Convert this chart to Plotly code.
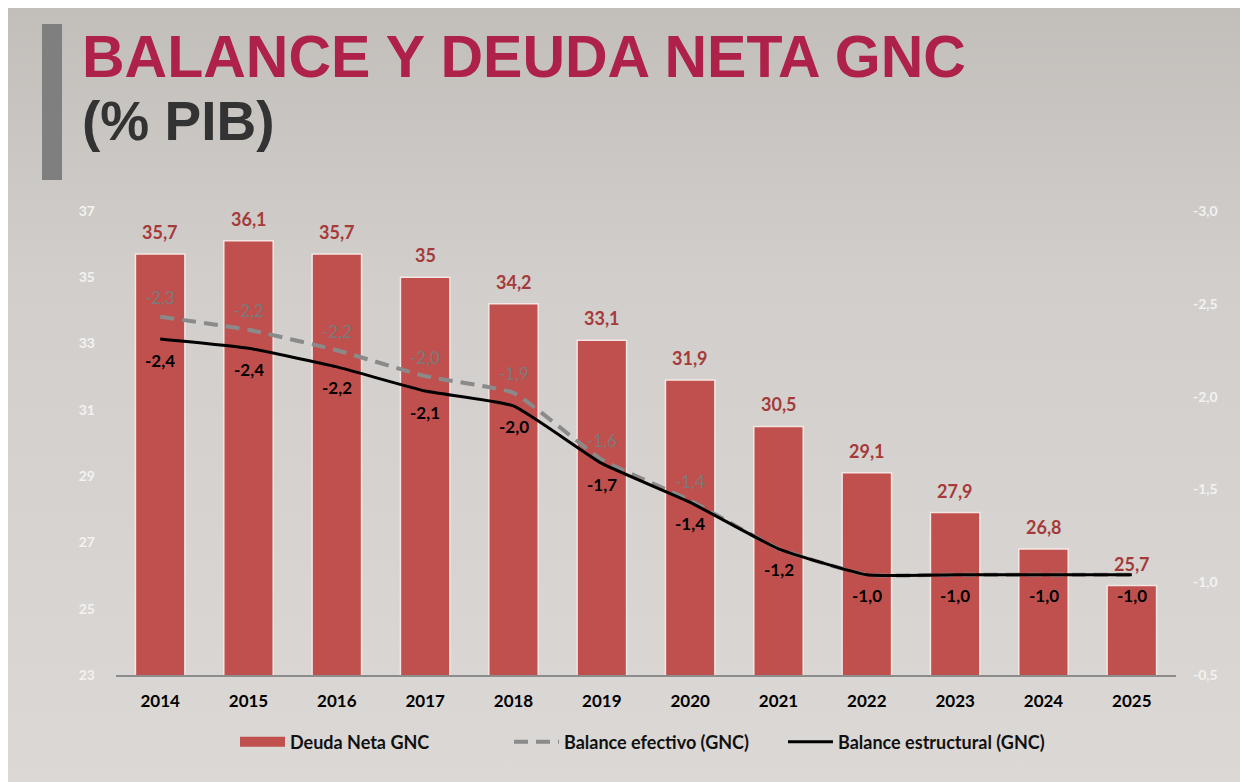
import base64
import plotly.graph_objects as go

# ---------------- data ----------------
years = ["2014", "2015", "2016", "2017", "2018", "2019", "2020", "2021", "2022", "2023", "2024", "2025"]
deuda_neta = [35.7, 36.1, 35.7, 35.0, 34.2, 33.1, 31.9, 30.5, 29.1, 27.9, 26.8, 25.7]
balance_efectivo = [-2.43, -2.36, -2.25, -2.11, -2.02, -1.66, -1.44, -1.18, -1.04, -1.04, -1.04, -1.04]
balance_estructural = [-2.31, -2.26, -2.16, -2.03, -1.95, -1.64, -1.43, -1.18, -1.04, -1.04, -1.04, -1.04]
efectivo_labels = ["-2,3", "-2,2", "-2,2", "-2,0", "-1,9", "-1,6", "-1,4", "", "", "", "", ""]
estructural_labels = ["-2,4", "-2,4", "-2,2", "-2,1", "-2,0", "-1,7", "-1,4", "-1,2", "-1,0", "-1,0", "-1,0", "-1,0"]
left_ticks = [23, 25, 27, 29, 31, 33, 35, 37]
right_ticks = [-3.0, -2.5, -2.0, -1.5, -1.0, -0.5]
right_ticktext = ["-3,0", "-2,5", "-2,0", "-1,5", "-1,0", "-0,5"]

W, H = 1248, 782
OFF = 8  # page body margin
ML, MR, MT, MB = 116 - OFF, 1248 - 1176 + OFF, 211 - OFF, 782 - 675 + OFF
PW, PH = W - ML - MR, H - MT - MB


def px(x):
    # page pixel -> paper coordinate
    return (x - OFF - ML) / PW


def py(y):
    return (H - MB - (y - OFF)) / PH


bar_text = [f"{v:g}".replace(".", ",") for v in deuda_neta]
BAR_RED = "#c0504d"

fig = go.Figure()
fig.add_trace(go.Bar(
    x=years, y=deuda_neta, name="Deuda Neta GNC", showlegend=False,
    marker=dict(color=BAR_RED, line=dict(color="#f3e6e4", width=1.5)),
    width=0.56, yaxis="y",
))
# legend entry for bars (wide red swatch)
fig.add_trace(go.Scatter(
    x=[None], y=[None], name="Deuda Neta GNC", mode="lines",
    line=dict(color=BAR_RED, width=12), yaxis="y",
))
fig.add_trace(go.Scatter(
    x=years, y=balance_efectivo, name="Balance efectivo (GNC)",
    mode="lines", line=dict(color="#8a8a8a", width=4, dash="14px,8px", shape="spline", smoothing=0.4),
    yaxis="y2", cliponaxis=False,
))
fig.add_trace(go.Scatter(
    x=years, y=balance_estructural, name="Balance estructural (GNC)",
    mode="lines", line=dict(color="#000000", width=3, shape="spline", smoothing=0.4),
    yaxis="y2", cliponaxis=False,
))

annotations = []
for i, (v, lab) in enumerate(zip(deuda_neta, bar_text)):
    annotations.append(dict(
        x=i, y=v, xref="x", yref="y", text=lab, showarrow=False,
        yanchor="bottom", yshift=9,
        font=dict(family="Lato", size=18, color="#a53a3b", weight="bold"),
    ))
for i, (v, lab) in enumerate(zip(balance_efectivo, efectivo_labels)):
    if lab:
        annotations.append(dict(
            x=i, y=v, xref="x", yref="y2", text=lab, showarrow=False,
            yshift=19, font=dict(family="Lato", size=17, color="#7a7a7a"),
        ))
for i, (v, lab) in enumerate(zip(balance_estructural, estructural_labels)):
    annotations.append(dict(
        x=i, y=v, xref="x", yref="y2", text=lab, showarrow=False,
        yshift=-21, font=dict(family="Lato", size=17, color="#000000", weight="bold"),
    ))
annotations += [
    dict(text="<b>BALANCE Y DEUDA NETA GNC</b>", xref="paper", yref="paper",
         x=px(80), y=py(57), xanchor="left", yanchor="middle", showarrow=False,
         font=dict(family="Liberation Sans", size=59, color="#ae2148")),
    dict(text="<b>(% PIB)</b>", xref="paper", yref="paper",
         x=px(80), y=py(121), xanchor="left", yanchor="middle", showarrow=False,
         font=dict(family="Liberation Sans", size=55, color="#333333")),
]

# background gradient (paper-like grey)
svg = (
    f'<svg xmlns="http://www.w3.org/2000/svg" width="{W}" height="{H}" viewBox="0 0 {W} {H}" preserveAspectRatio="none">'
    '<defs><linearGradient id="g" x1="0" y1="0" x2="0" y2="1">'
    '<stop offset="0" stop-color="#c2beba"/>'
    '<stop offset="0.35" stop-color="#d2cecb"/>'
    '<stop offset="1" stop-color="#dcd8d5"/>'
    '</linearGradient></defs>'
    f'<rect x="0" y="0" width="{W}" height="{H}" fill="url(#g)"/>'
    '</svg>'
)
src = "data:image/svg+xml;base64," + base64.b64encode(svg.encode()).decode()

fig.update_layout(
    width=W, height=H,
    margin=dict(l=ML, r=MR, t=MT, b=MB),
    paper_bgcolor="#d4d0cd",
    plot_bgcolor="rgba(0,0,0,0)",
    separators=",.",
    showlegend=True,
    legend=dict(
        orientation="h", x=0.5, xanchor="center", y=py(742), yanchor="middle",
        font=dict(family="Lato", size=18, color="#111111", weight="bold"),
        bgcolor="rgba(0,0,0,0)", traceorder="normal",
        entrywidth=214, entrywidthmode="pixels", itemwidth=45,
    ),
    xaxis=dict(
        type="category", range=[-0.5, 11.5],
        showline=True, linecolor="#8c8c8c", linewidth=2,
        ticks="", showgrid=False, zeroline=False, ticklabelstandoff=10,
        tickfont=dict(family="Lato", size=17, color="#000000", weight="bold"),
    ),
    yaxis=dict(
        range=[23, 37], tickvals=left_ticks, showgrid=False, zeroline=False,
        showline=False, ticks="", ticklabelstandoff=20,
        tickfont=dict(family="Lato", size=14, color="#f4f2f1", weight="bold"),
    ),
    yaxis2=dict(
        overlaying="y", side="right", range=[-0.5, -3.0],
        tickvals=right_ticks, ticktext=right_ticktext,
        showgrid=False, zeroline=False, showline=False, ticks="", ticklabelstandoff=16,
        tickfont=dict(family="Lato", size=14, color="#f4f2f1", weight="bold"),
    ),
    images=[dict(
        source=src, xref="paper", yref="paper",
        x=px(OFF), y=py(OFF), sizex=W / PW, sizey=H / PH,
        xanchor="left", yanchor="top", sizing="stretch", layer="below",
    )],
    shapes=[dict(
        type="rect", xref="paper", yref="paper",
        x0=px(42), x1=px(62), y0=py(180), y1=py(24),
        fillcolor="#7f7f7f", line=dict(width=0), layer="above",
    )],
    annotations=annotations,
)

fig.write_html("out.html")
